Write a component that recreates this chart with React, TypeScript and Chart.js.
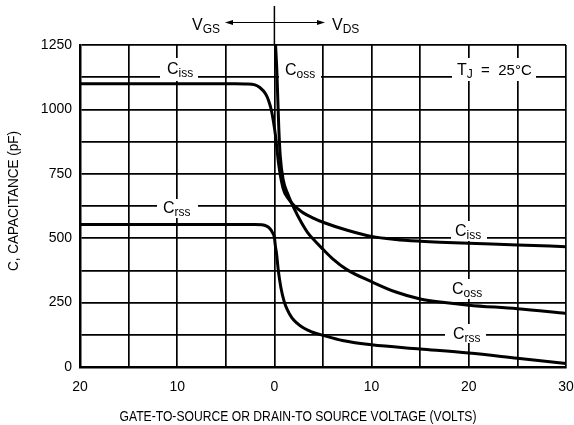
import React, { useEffect, useRef } from "react";
import { Chart, registerables } from "chart.js";
Chart.register(...registerables);

// Gate-to-source (negative) / drain-to-source (positive) voltage, volts
const cissVolts = [-20, -10, -5, -4, -3, -2, -1.5, -0.9, -0.6, -0.3, 0.1, 0.45, 0.9, 1.4, 2, 2.8, 4, 5, 7.5, 10, 12.5, 15, 17, 20, 25, 30];
const cissPF = [1100, 1100, 1100, 1100, 1099, 1095, 1085, 1060, 1035, 995, 902, 784, 693, 655, 628, 603, 578, 562, 531, 507, 495, 488, 484, 480, 474, 467];

const cossVolts = [0.12, 0.25, 0.35, 0.45, 0.6, 0.9, 1.4, 2, 2.75, 3.4, 4.2, 5, 6, 7.5, 10, 12.5, 15, 17.5, 20, 25, 30];
const cossPF = [1250, 1150, 1040, 930, 820, 728, 670, 618, 563, 523, 488, 457, 420, 377, 331, 291, 264, 250, 240, 226, 208];

const crssVolts = [-20, -10, -5, -2, -1.3, -0.8, -0.45, -0.2, 0, 0.1, 0.23, 0.4, 0.67, 1, 1.3, 1.77, 2.3, 2.8, 3.5, 4, 5, 7, 10, 15, 20, 25, 30];
const crssPF = [553, 553, 553, 553, 552, 547, 537, 522, 503, 470, 437, 375, 308, 255, 225, 193, 171, 156, 142, 134, 123, 103, 86, 70, 54, 34, 14];

const xMin = -20;
const xMax = 30;
const xGridStep = 5;
const xLabelStep = 10;
const yMin = 0;
const yMax = 1250;
const yGridStep = 125;
const yLabelStep = 250;

const xTitle = "GATE-TO-SOURCE OR DRAIN-TO SOURCE VOLTAGE (VOLTS)";
const yTitle = "C, CAPACITANCE (pF)";

const FONT = '"Liberation Sans", Arial, sans-serif';

const toPoints = (xs: number[], ys: number[]) => xs.map((x, i) => ({ x, y: ys[i] }));

function drawSub(
  ctx: CanvasRenderingContext2D,
  x: number,
  y: number,
  main: string,
  sub: string,
  rest = "",
  mainSize = 16,
  subSize = 12
) {
  ctx.textBaseline = "alphabetic";
  ctx.textAlign = "left";
  ctx.font = `${mainSize}px ${FONT}`;
  ctx.fillText(main, x, y);
  let cx = x + ctx.measureText(main).width;
  ctx.font = `${subSize}px ${FONT}`;
  ctx.fillText(sub, cx, y + 2.5);
  cx += ctx.measureText(sub).width;
  if (rest) {
    ctx.font = `${mainSize - 1}px ${FONT}`;
    ctx.fillText(rest, cx, y);
    cx += ctx.measureText(rest).width;
  }
  return cx;
}

function fitText(ctx: CanvasRenderingContext2D, text: string, cx: number, cy: number, width: number) {
  const w = ctx.measureText(text).width;
  ctx.save();
  ctx.translate(cx, cy);
  ctx.scale(width / w, 1);
  ctx.textAlign = "center";
  ctx.textBaseline = "middle";
  ctx.fillText(text, 0, 0);
  ctx.restore();
}

const annotations = {
  id: "annotations",
  beforeDatasetsDraw(chart: any) {
    const ctx: CanvasRenderingContext2D = chart.ctx;
    ctx.save();
    const boxes = [
      [160, 58, 38, 23],
      [279, 58, 42, 23],
      [452, 58, 84, 23],
      [157, 199, 41, 19],
      [451, 221, 36, 20],
      [448, 279, 38, 20],
      [445, 324, 41, 19],
    ];
    ctx.fillStyle = "#fff";
    boxes.forEach(([x, y, w, h]) => ctx.fillRect(x, y, w, h));
    ctx.fillStyle = "#000";
    drawSub(ctx, 167, 74, "C", "iss");
    drawSub(ctx, 285, 75, "C", "oss");
    drawSub(ctx, 457, 75, "T", "J", "  =  25\u00B0C");
    drawSub(ctx, 163, 213, "C", "rss");
    drawSub(ctx, 455, 236, "C", "iss");
    drawSub(ctx, 452, 294, "C", "oss");
    drawSub(ctx, 453, 339, "C", "rss");
    ctx.restore();
  },
  afterDraw(chart: any) {
    const ctx: CanvasRenderingContext2D = chart.ctx;
    const x0 = chart.scales.x.getPixelForValue(0);
    const top = chart.chartArea.top;
    ctx.save();
    ctx.strokeStyle = "#000";
    ctx.fillStyle = "#000";
    ctx.lineWidth = 1.5;
    ctx.beginPath();
    ctx.moveTo(x0, 6);
    ctx.lineTo(x0, top);
    ctx.stroke();
    // arrows
    const ay = 22.5;
    ctx.lineWidth = 1.2;
    ctx.beginPath();
    ctx.moveTo(x0, ay);
    ctx.lineTo(230, ay);
    ctx.moveTo(x0, ay);
    ctx.lineTo(320, ay);
    ctx.stroke();
    ctx.beginPath();
    ctx.moveTo(225, ay);
    ctx.lineTo(233, ay - 2.5);
    ctx.lineTo(233, ay + 2.5);
    ctx.closePath();
    ctx.fill();
    ctx.beginPath();
    ctx.moveTo(325, ay);
    ctx.lineTo(317, ay - 2.5);
    ctx.lineTo(317, ay + 2.5);
    ctx.closePath();
    ctx.fill();
    drawSub(ctx, 192, 30, "V", "GS", "", 16, 12);
    drawSub(ctx, 332, 30, "V", "DS", "", 16, 12);
    // axis titles
    ctx.font = `14px ${FONT}`;
    fitText(ctx, xTitle, 298, 417, 357);
    ctx.save();
    ctx.translate(14, 201);
    ctx.rotate(-Math.PI / 2);
    fitText(ctx, yTitle, 0, 0, 140);
    ctx.restore();
    ctx.restore();
  },
};

export default function App() {
  const ref = useRef<HTMLCanvasElement>(null);
  useEffect(() => {
    document.body.style.margin = "0";
    const canvas = ref.current!;
    const line = (label: string, xs: number[], ys: number[]) => ({
      label,
      data: toPoints(xs, ys),
      borderColor: "#000",
      borderWidth: 3,
      pointRadius: 0,
      fill: false,
      cubicInterpolationMode: "monotone" as const,
    });
    const chart = new Chart(canvas, {
      type: "line",
      data: {
        datasets: [
          line("Ciss", cissVolts, cissPF),
          line("Coss", cossVolts, cossPF),
          line("Crss", crssVolts, crssPF),
        ],
      },
      options: {
        responsive: false,
        animation: false,
        layout: { padding: { top: 45, right: 8, left: 0, bottom: 0 } },
        plugins: { legend: { display: false }, tooltip: { enabled: false } },
        scales: {
          x: {
            type: "linear",
            min: xMin,
            max: xMax,
            afterFit: (s: any) => {
              s.height = 58;
              s.paddingLeft = 0;
              s.paddingRight = 0;
            },
            grid: { color: "#000", lineWidth: 1.7, drawTicks: false },
            border: { color: "#000", width: 2.5 },
            ticks: {
              stepSize: xGridStep,
              padding: 12,
              color: "#000",
              font: { family: FONT, size: 14 },
              maxRotation: 0,
              autoSkip: false,
              callback: (v: any) => (Number(v) % xLabelStep === 0 ? String(Math.abs(Number(v))) : ""),
            },
          },
          y: {
            type: "linear",
            min: yMin,
            max: yMax,
            afterFit: (s: any) => {
              s.width = 80;
              s.paddingTop = 0;
              s.paddingBottom = 0;
            },
            grid: { color: "#000", lineWidth: 1.7, drawTicks: false },
            border: { color: "#000", width: 2.5 },
            ticks: {
              stepSize: yGridStep,
              padding: 8,
              color: "#000",
              font: { family: FONT, size: 14 },
              autoSkip: false,
              callback: (v: any) => (Number(v) % yLabelStep === 0 ? String(v) : ""),
            },
          },
        },
      },
      plugins: [annotations],
    });
    return () => chart.destroy();
  }, []);
  return (
    <div style={{ position: "absolute", left: 0, top: 0, width: 574, height: 425, background: "#fff" }}>
      <canvas ref={ref} width={574} height={425} style={{ display: "block" }} />
    </div>
  );
}
